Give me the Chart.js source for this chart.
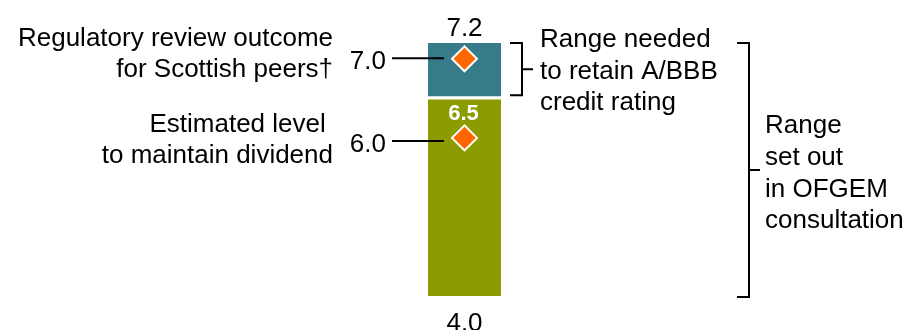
<!DOCTYPE html>
<html>
<head>
<meta charset="utf-8">
<script src="https://cdn.jsdelivr.net/npm/chart.js@4"></script>
<style>
  html, body { margin: 0; padding: 0; background: #fff; }
  #wrap { width: 908px; height: 330px; position: relative; }
</style>
</head>
<body>
<div id="wrap"><canvas id="chart"></canvas></div>
<script>
// --- data ---
const categories = ['Allowed return'];
const dividendRange = [[4.0, 6.5]];   // olive block
const creditRange = [[6.5, 7.2]];     // teal block
const scottishPeers = [7.0];
const dividendLevel = [6.0];
const axisMin = 4.0;
const axisMax = 7.2;

const peersLabel = ['Regulatory review outcome', 'for Scottish peers\u2020'];
const dividendLabel = ['Estimated level ', 'to maintain dividend'];
const creditLabel = ['Range needed', 'to retain A/BBB', 'credit rating'];
const ofgemLabel = ['Range', 'set out', 'in OFGEM', 'consultation'];

const FONT = '"Liberation Sans", Arial, Helvetica, sans-serif';
const TEAL = '#377a8a';
const OLIVE = '#8c9c00';
const ORANGE = '#ff6600';

// annotations, leader lines and brackets
const annotate = {
    id: 'annotate',
    afterDatasetsDraw(chart) {
        const ctx = chart.ctx;
        const y = chart.scales.y;
        const cx = chart.scales.x.getPixelForValue(0);
        const fmt = v => v.toFixed(1);

        ctx.save();
        ctx.fillStyle = '#000';
        ctx.strokeStyle = '#000';
        ctx.lineWidth = 2;
        ctx.textBaseline = 'alphabetic';
        ctx.font = '26px ' + FONT;

        // range end values
        ctx.textAlign = 'center';
        ctx.fillText(fmt(creditRange[0][1]), cx, y.getPixelForValue(creditRange[0][1]) - 7);
        ctx.fillText(fmt(dividendRange[0][0]), cx, y.getPixelForValue(dividendRange[0][0]) + 35);

        // white value at top of olive block
        ctx.fillStyle = '#fff';
        ctx.font = 'bold 22px ' + FONT;
        ctx.fillText(fmt(dividendRange[0][1]), cx - 1, y.getPixelForValue(dividendRange[0][1]) + 22);

        // leader lines with values
        ctx.fillStyle = '#000';
        ctx.font = '26px ' + FONT;
        const leaders = [
            { v: scottishPeers[0], dy: -0.5, lines: peersLabel, top: -13 },
            { v: dividendLevel[0], dy: 3, lines: dividendLabel, top: -6 }
        ];
        leaders.forEach(l => {
            const py = y.getPixelForValue(l.v) + l.dy;
            ctx.beginPath();
            ctx.moveTo(392, py);
            ctx.lineTo(444, py);
            ctx.stroke();
            ctx.textAlign = 'right';
            ctx.fillText(fmt(l.v), 386, py + 11);
            l.lines.forEach((t, i) => {
                ctx.fillText(t, 333, y.getPixelForValue(l.v) + l.top + i * 31.5);
            });
        });

        // bracket helper
        function bracket(x0, x1, yTop, yBot, tickX) {
            const mid = (yTop + yBot) / 2;
            ctx.beginPath();
            ctx.moveTo(x0, yTop);
            ctx.lineTo(x1, yTop);
            ctx.lineTo(x1, yBot);
            ctx.lineTo(x0, yBot);
            ctx.moveTo(x1, mid);
            ctx.lineTo(tickX, mid);
            ctx.stroke();
            return mid;
        }

        const top = y.getPixelForValue(creditRange[0][1]);
        const midSmall = bracket(510, 522, top, y.getPixelForValue(creditRange[0][0]) - 3, 533);
        const midBig = bracket(737, 749, top, y.getPixelForValue(dividendRange[0][0]) + 1, 760);

        ctx.textAlign = 'left';
        creditLabel.forEach((t, i) => ctx.fillText(t, 540, midSmall - 22 + i * 31.5));
        ofgemLabel.forEach((t, i) => ctx.fillText(t, 765, midBig - 37 + i * 31.8));
        ctx.restore();
    }
};

const diamond = {
    type: 'line',
    showLine: false,
    pointStyle: 'rectRot',
    pointRadius: 12.5,
    pointBackgroundColor: ORANGE,
    pointBorderColor: '#fff',
    pointBorderWidth: 2,
    clip: false,
    order: 0
};

new Chart(document.getElementById('chart'), {
    type: 'bar',
    data: {
        labels: categories,
        datasets: [
            Object.assign({ data: scottishPeers }, diamond),
            Object.assign({ data: dividendLevel }, diamond),
            {
                data: creditRange,
                backgroundColor: TEAL,
                borderColor: '#fff',
                borderWidth: { top: 0, left: 0, right: 0, bottom: 2.5 },
                borderSkipped: false,
                grouped: false,
                barPercentage: 1,
                categoryPercentage: 1,
                order: 1
            },
            {
                data: dividendRange,
                backgroundColor: OLIVE,
                borderColor: '#fff',
                borderWidth: { top: 1.5, left: 0, right: 0, bottom: 0 },
                borderSkipped: false,
                grouped: false,
                barPercentage: 1,
                categoryPercentage: 1,
                order: 2
            }
        ]
    },
    options: {
        responsive: true,
        maintainAspectRatio: false,
        animation: false,
        layout: { padding: { left: 428, right: 407, top: 43, bottom: 34 } },
        plugins: {
            legend: { display: false },
            tooltip: { enabled: false }
        },
        scales: {
            x: { display: false },
            y: { display: false, min: axisMin, max: axisMax }
        }
    },
    plugins: [annotate]
});
</script>
</body>
</html>
